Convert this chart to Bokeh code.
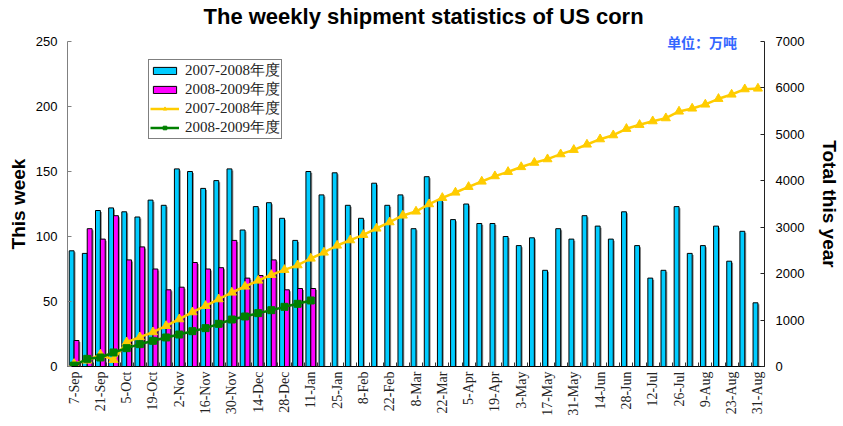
import numpy as np
from bokeh.plotting import figure
from bokeh.models import (Range1d, LinearAxis, FixedTicker, Legend, LegendItem)
from bokeh.embed import file_html
from bokeh.resources import INLINE

# ---------------- data ----------------
tick_labels = ["7-Sep", "21-Sep", "5-Oct", "19-Oct", "2-Nov", "16-Nov", "30-Nov",
               "14-Dec", "28-Dec", "11-Jan", "25-Jan", "8-Feb", "22-Feb", "8-Mar",
               "22-Mar", "5-Apr", "19-Apr", "3-May", "17-May", "31-May", "14-Jun",
               "28-Jun", "12-Jul", "26-Jul", "9-Aug", "23-Aug", "31-Aug"]

week_0708 = [89, 87, 120, 122, 119, 115, 128, 124, 152, 150, 137, 143, 152, 105, 123,
             126, 114, 97, 150,
             132, 149, 124, 114, 141, 124, 132, 106, 146, 128, 113, 125, 110, 110,
             100, 93, 99,
             74, 106, 98, 116, 108, 98, 119, 93, 68, 74, 123, 87, 93, 108, 81, 104, 49]

week_0809 = [20, 106, 98, 116, 82, 92, 75, 59, 61, 80, 75, 76, 97, 68, 70, 82, 59, 60, 60]

total_0708 = [58, 129, 258, 144, 524, 632, 739, 876, 1019, 1170, 1307, 1450, 1594,
              1723, 1852, 1974, 2082, 2182, 2326,
              2456, 2606, 2721, 2836, 2973, 3109, 3253, 3339, 3497, 3633, 3748, 3870,
              3985, 4100, 4193, 4297, 4390,
              4466, 4573, 4667, 4782, 4896, 4982, 5120, 5206, 5284, 5349, 5493, 5558,
              5644, 5766, 5859, 5973, 5988]

total_0809 = [20, 165, 194, 302, 395, 481, 553, 625, 689, 761, 826, 919, 1012, 1077,
              1149, 1213, 1285, 1350, 1422]

series_names = ["2007-2008年度", "2008-2009年度"]
left_ticks = [0, 50, 100, 150, 200, 250]
right_ticks = [0, 1000, 2000, 3000, 4000, 5000, 6000, 7000]
title_text = "The weekly shipment statistics of US corn"
unit_text = "单位：万吨"

# ---------------- figure ----------------
n = len(week_0708)
x_a = np.arange(n)
x_b = np.arange(len(week_0809))

p = figure(width=843, height=426, x_range=Range1d(-0.5, n - 0.5),
           y_range=Range1d(0, 250), output_backend="svg", toolbar_location=None,
           min_border_left=67, min_border_right=72, min_border_top=41,
           min_border_bottom=60, outline_line_color=None,
           background_fill_color="white", border_fill_color="white")
p.extra_y_ranges = {"total": Range1d(0, 7000)}
p.extra_x_ranges = {"px": Range1d(67, 771)}
p.xgrid.visible = False
p.ygrid.visible = False

p.title.text = title_text
p.title.align = "left"
p.title.offset = 136
p.title.text_font = "Liberation Sans"
p.title.text_font_size = "22px"
p.title.text_font_style = "bold"
p.title.text_color = "black"
p.title.standoff = 0

bw = 0.37
off = 0.185
sh = 0.11

# bar shadows
p.vbar(x=x_a - off + sh, top=np.array(week_0708) - 1.2, width=bw, bottom=0,
       fill_color="#8a8a8a", line_color=None)
p.vbar(x=x_b + off + sh, top=np.array(week_0809) - 1.2, width=bw, bottom=0,
       fill_color="#8a8a8a", line_color=None)

b1 = p.vbar(x=x_a - off, top=week_0708, width=bw, bottom=0,
            fill_color="#00CCFF", line_color="black", line_width=1)
b2 = p.vbar(x=x_b + off, top=week_0809, width=bw, bottom=0,
            fill_color="#FF00FF", line_color="black", line_width=1)

l1 = p.line(x_a, total_0708, y_range_name="total", line_color="#FFCC00", line_width=2.5)
m1 = p.scatter(x_a, total_0708, y_range_name="total", marker="triangle", size=9,
               fill_color="#FFCC00", line_color="#FFCC00")
l2 = p.line(x_b, total_0809, y_range_name="total", line_color="#008000", line_width=2.5)
m2 = p.scatter(x_b, total_0809, y_range_name="total", marker="square", size=7,
               fill_color="#008000", line_color="#008000")

# ---------------- axes ----------------
xa = p.xaxis[0]
xa.ticker = FixedTicker(ticks=list(range(0, n, 2)),
                        minor_ticks=[i - 0.5 for i in range(n + 1)])
xa.major_label_overrides = {i: lab for i, lab in zip(range(0, n, 2), tick_labels)}
xa.major_label_orientation = np.pi / 2
xa.major_tick_in = 0
xa.major_tick_out = 0
xa.minor_tick_in = 4
xa.minor_tick_out = 0
xa.minor_tick_line_color = "#333333"
xa.axis_line_color = "black"
xa.major_label_text_font = "Liberation Serif"
xa.major_label_text_font_size = "14px"
xa.major_label_text_color = "#222222"
xa.major_label_standoff = 5

ya = p.yaxis[0]
ya.ticker = FixedTicker(ticks=left_ticks)
ya.major_tick_in = 4
ya.major_tick_out = 0
ya.minor_tick_line_color = None
ya.axis_line_color = "#808080"
ya.major_tick_line_color = "#808080"
ya.major_label_text_font = "Liberation Sans"
ya.major_label_text_font_size = "13px"
ya.major_label_text_color = "black"
ya.major_label_standoff = 10
ya.axis_label = "This week"
ya.axis_label_text_font = "Liberation Sans"
ya.axis_label_text_font_size = "19px"
ya.axis_label_text_font_style = "bold"
ya.axis_label_text_color = "black"
ya.axis_label_standoff = 4

ra = LinearAxis(y_range_name="total", ticker=FixedTicker(ticks=right_ticks))
ra.major_tick_in = 4
ra.major_tick_out = 0
ra.minor_tick_line_color = None
ra.axis_line_color = "#222222"
ra.major_tick_line_color = "#222222"
ra.major_label_text_font = "Liberation Sans"
ra.major_label_text_font_size = "13px"
ra.major_label_text_color = "black"
ra.major_label_standoff = 11
ra.axis_label = "Total this year"
ra.axis_label_text_font = "Liberation Sans"
ra.axis_label_text_font_size = "19px"
ra.axis_label_text_font_style = "bold"
ra.axis_label_text_color = "black"
ra.axis_label_standoff = 12
p.add_layout(ra, "right")

# unit note: a tick label on a bare top axis, on a pixel-like range
ua = LinearAxis(x_range_name="px", ticker=FixedTicker(ticks=[708]))
ua.major_label_overrides = {708: unit_text}
ua.axis_line_color = None
ua.major_tick_line_color = None
ua.minor_tick_line_color = None
ua.major_label_text_font = "Noto Sans CJK SC"
ua.major_label_text_font_size = "14px"
ua.major_label_text_font_style = "bold"
ua.major_label_text_color = "#3366FF"
ua.major_label_standoff = -16
p.add_layout(ua, "above")

# ---------------- legend ----------------
legend = Legend(items=[
    LegendItem(label=series_names[0], renderers=[b1]),
    LegendItem(label=series_names[1], renderers=[b2]),
    LegendItem(label=series_names[0], renderers=[l1, m1]),
    LegendItem(label=series_names[1], renderers=[l2, m2]),
], location=(81, 227))
legend.border_line_color = "black"
legend.border_line_width = 1
legend.background_fill_color = "white"
legend.background_fill_alpha = 1
legend.label_text_font = "Liberation Serif"
legend.label_text_font_size = "15px"
legend.label_text_line_height = 0.9
legend.label_text_color = "#222222"
legend.glyph_width = 29
legend.glyph_height = 9
legend.label_height = 17
legend.spacing = 0
legend.padding = 1
legend.margin = 0
legend.label_standoff = 6
p.add_layout(legend, "center")

open("out.html", "w").write(file_html(p, INLINE))
